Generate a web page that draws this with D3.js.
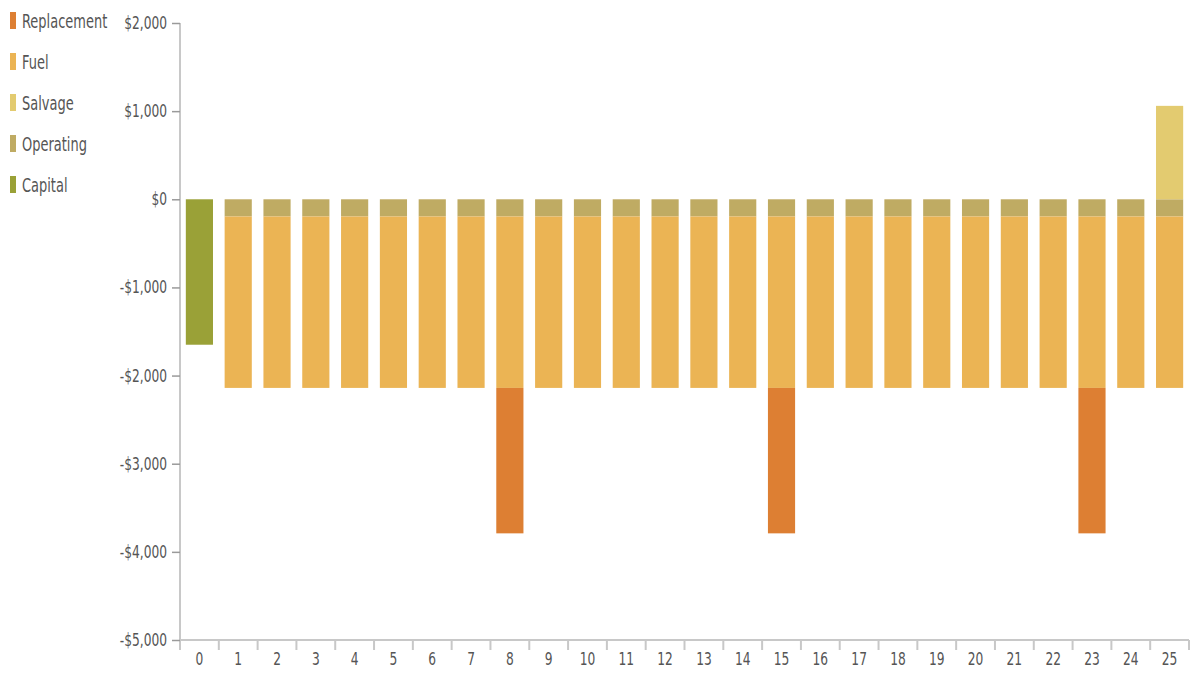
<!DOCTYPE html>
<html>
<head>
<meta charset="utf-8">
<script src="https://cdn.jsdelivr.net/npm/d3@7"></script>
<style>
  html, body { margin: 0; padding: 0; background: #fff; }
  svg { display: block; }
  text { font-family: "Liberation Sans Narrow", "DejaVu Sans Condensed", sans-serif; fill: #555; }
</style>
</head>
<body>
<svg id="chart" width="1196" height="683"></svg>
<script>
// Cash flow by year, split by cost component
const years = ["0","1","2","3","4","5","6","7","8","9","10","11","12","13","14","15","16","17","18","19","20","21","22","23","24","25"];
const capital     = [-1650,0,0,0,0,0,0,0,0,0,0,0,0,0,0,0,0,0,0,0,0,0,0,0,0,0];
const operating   = [0,-195,-195,-195,-195,-195,-195,-195,-195,-195,-195,-195,-195,-195,-195,-195,-195,-195,-195,-195,-195,-195,-195,-195,-195,-195];
const fuel        = [0,-1945,-1945,-1945,-1945,-1945,-1945,-1945,-1945,-1945,-1945,-1945,-1945,-1945,-1945,-1945,-1945,-1945,-1945,-1945,-1945,-1945,-1945,-1945,-1945,-1945];
const replacement = [0,0,0,0,0,0,0,0,-1650,0,0,0,0,0,0,-1650,0,0,0,0,0,0,0,-1650,0,0];
const salvage     = [0,0,0,0,0,0,0,0,0,0,0,0,0,0,0,0,0,0,0,0,0,0,0,0,0,1060];
const yTicks      = [2000, 1000, 0, -1000, -2000, -3000, -4000, -5000];
const legendNames = ["Replacement","Fuel","Salvage","Operating","Capital"];

const colors = {
  Replacement: "#dd7f33",
  Fuel: "#ebb454",
  Salvage: "#e3cb70",
  Operating: "#bfab63",
  Capital: "#9aa137"
};

const rows = years.map((yr, i) => ({
  year: yr,
  Capital: capital[i],
  Operating: operating[i],
  Fuel: fuel[i],
  Replacement: replacement[i],
  Salvage: salvage[i]
}));

const stackKeys = ["Capital","Operating","Fuel","Replacement","Salvage"];
const series = d3.stack()
  .keys(stackKeys)
  .offset(d3.stackOffsetDiverging)(rows);

const svg = d3.select("#chart");
const plotLeft = 180, plotRight = 1189, plotTop = 23, plotBottom = 640;
const squeeze = 0.8;   // horizontal compression for the narrow label face

const y = d3.scaleLinear().domain([-5000, 2000]).range([plotBottom, plotTop]);
const xAxisScale = d3.scaleBand().domain(years).range([plotLeft, plotRight]).padding(0);
const xBar = d3.scaleBand().domain(years).range([plotLeft, plotRight]).paddingInner(0.3).paddingOuter(0.15);

const fmt = v => (v < 0 ? "-$" : "$") + d3.format(",")(Math.abs(v));

// bars
svg.append("g").selectAll("g")
  .data(series)
  .join("g")
  .attr("fill", d => colors[d.key])
  .selectAll("rect")
  .data(d => d.filter(p => p[1] !== p[0]))
  .join("rect")
  .attr("x", d => xBar(d.data.year))
  .attr("width", xBar.bandwidth())
  .attr("y", d => y(Math.max(d[0], d[1])))
  .attr("height", d => Math.abs(y(d[0]) - y(d[1])));

// y axis
const yAxis = svg.append("g")
  .attr("transform", `translate(${plotLeft},0)`)
  .call(d3.axisLeft(y).tickValues(yTicks).tickFormat(fmt).tickSize(8));
yAxis.select(".domain").attr("stroke", "#c8c8c8").attr("stroke-width", 2)
  .attr("d", `M0,${plotTop}V${plotBottom + 10}`);
yAxis.selectAll(".tick line").attr("stroke", "#9a9a9a").attr("stroke-width", 1.5);
yAxis.selectAll(".tick text")
  .attr("font-size", 17).attr("fill", "#555")
  .attr("x", -13 / squeeze)
  .attr("transform", `scale(${squeeze},1)`);

// x axis
const xAxis = svg.append("g")
  .attr("transform", `translate(0,${plotBottom})`)
  .call(d3.axisBottom(xAxisScale).tickSize(0).tickPadding(13));
xAxis.select(".domain").attr("stroke", "#c8c8c8").attr("stroke-width", 2)
  .attr("d", `M${plotLeft},0H${plotRight}`);
xAxis.selectAll(".tick text")
  .attr("font-size", 17).attr("fill", "#555")
  .attr("transform", `scale(${squeeze},1)`);
// boundary tick marks between years
xAxis.append("g").selectAll("line")
  .data(years.slice(1).concat(["end"]))
  .join("line")
  .attr("x1", d => d === "end" ? plotRight : xAxisScale(d))
  .attr("x2", d => d === "end" ? plotRight : xAxisScale(d))
  .attr("y1", 0).attr("y2", 10)
  .attr("stroke", "#c8c8c8").attr("stroke-width", 2);

// legend
const legend = svg.append("g").selectAll("g")
  .data(legendNames)
  .join("g")
  .attr("transform", (d, i) => `translate(10,${21 + i * 41})`);
legend.append("rect")
  .attr("x", 0).attr("y", -9).attr("width", 6).attr("height", 17)
  .attr("fill", d => colors[d]);
legend.append("g")
  .attr("transform", `translate(12,0) scale(0.76,1)`)
  .append("text")
  .attr("x", 0).attr("y", 0).attr("dy", "0.35em")
  .attr("font-size", 19).attr("fill", "#444")
  .text(d => d);
</script>
</body>
</html>
